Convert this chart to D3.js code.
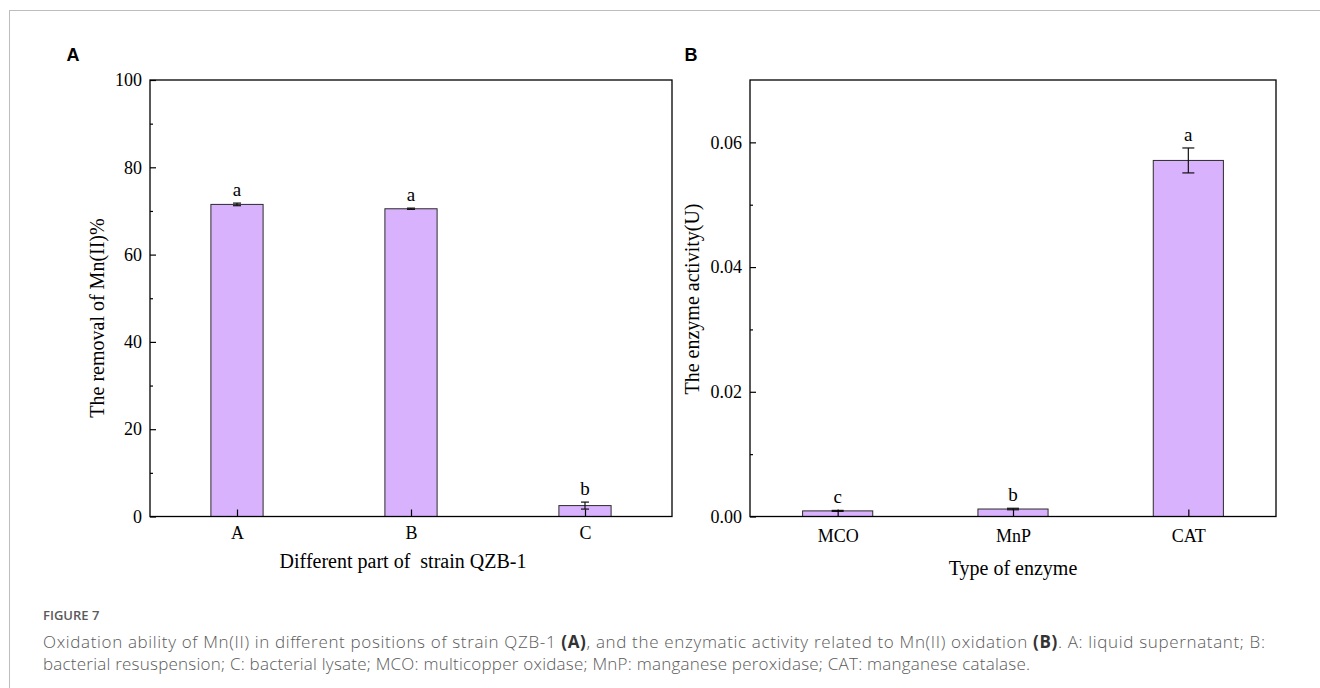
<!DOCTYPE html>
<html>
<head>
<meta charset="utf-8">
<script src="https://cdn.jsdelivr.net/npm/d3@7"></script>
<style>
  body { margin: 0; background: #fff; }
  svg text { font-family: "Liberation Serif", "Times New Roman", serif; }
  .panelLabel { font-family: "Liberation Sans", Arial, sans-serif !important; font-weight: bold; font-size: 18px; }
  .caption { font-family: "Open Sans", "Noto Sans", sans-serif !important; fill: #5a5a5a; }
</style>
</head>
<body>
<svg id="chart" width="1320" height="688"></svg>
<script>
// panel A: removal of Mn(II) by different parts of strain QZB-1
const partCats = ['A', 'B', 'C'];
const removal = [71.5, 70.5, 2.5];
const removalErr = [0.3, 0.15, 0.8];
const removalSig = ['a', 'a', 'b'];
const removalTicks = [0, 20, 40, 60, 80, 100];
const removalMinor = [10, 30, 50, 70, 90];

// panel B: enzyme activity
const enzymeCats = ['MCO', 'MnP', 'CAT'];
const activity = [0.0009, 0.0012, 0.0571];
const activityErr = [0.00008, 0.00012, 0.002];
const activitySig = ['c', 'b', 'a'];
const activityTicks = [0, 0.02, 0.04, 0.06];
const activityMinor = [0.01, 0.03, 0.05];

const captionLines = [
    [['Oxidation ability of Mn(II) in different positions of strain QZB-1 ', false], ['(A)', true],
     [', and the enzymatic activity related to Mn(II) oxidation ', false], ['(B)', true],
     ['. A: liquid supernatant; B:', false]],
    [['bacterial resuspension; C: bacterial lysate; MCO: multicopper oxidase; MnP: manganese peroxidase; CAT: manganese catalase.', false]]
];
const captionWidths = [1222, 987];

let svg = d3.select('#chart');

// page frame
svg.append('rect')
    .attr('x', 9.5).attr('y', 10.5)
    .attr('width', 1340).attr('height', 700)
    .attr('fill', 'none').attr('stroke', '#bdbdbd').attr('stroke-width', 1);

let drawPanel = function(opt){
    let x = d3.scaleLinear().domain([0.5, 3.5]).range([opt.l, opt.r]);
    let y = d3.scaleLinear().domain(opt.domain).range([opt.b, opt.t]);
    let g = svg.append('g');
    let rows = opt.cats.map((c, i) => ({cat: c, pos: i + 1, v: opt.values[i], e: opt.errs[i], s: opt.sig[i]}));

    // bars
    g.selectAll('.bar')
        .data(rows)
        .join('rect')
        .classed('bar', true)
        .attr('x', d => x(d.pos - opt.bw / 2))
        .attr('y', d => y(d.v))
        .attr('width', d => x(d.pos + opt.bw / 2) - x(d.pos - opt.bw / 2))
        .attr('height', d => y(0) - y(d.v))
        .attr('fill', '#d9b2fe')
        .attr('stroke', '#2b2b2b')
        .attr('stroke-width', 1);

    // error bars
    let err = g.selectAll('.err')
        .data(rows)
        .join('g')
        .classed('err', true)
        .attr('stroke', '#111')
        .attr('stroke-width', 1.2);
    err.append('line')
        .attr('x1', d => x(d.pos)).attr('x2', d => x(d.pos))
        .attr('y1', d => y(d.v - d.e)).attr('y2', d => y(d.v + d.e));
    err.append('line')
        .attr('x1', d => x(d.pos) - opt.cap).attr('x2', d => x(d.pos) + opt.cap)
        .attr('y1', d => y(d.v + d.e)).attr('y2', d => y(d.v + d.e));
    err.append('line')
        .attr('x1', d => x(d.pos) - opt.cap).attr('x2', d => x(d.pos) + opt.cap)
        .attr('y1', d => y(d.v - d.e)).attr('y2', d => y(d.v - d.e));

    // significance letters
    g.selectAll('.sig')
        .data(rows)
        .join('text')
        .classed('sig', true)
        .attr('x', d => x(d.pos))
        .attr('y', d => y(d.v + d.e) - 7)
        .attr('text-anchor', 'middle')
        .style('font-size', '19px')
        .text(d => d.s);

    // axes
    let yAxis = d3.axisLeft(y).tickValues(opt.ticks).tickFormat(opt.fmt)
        .tickSize(-6).tickPadding(8);
    let yg = g.append('g').attr('transform', `translate(${opt.l},0)`).call(yAxis);
    yg.selectAll('text').style('font-size', '18px').attr('fill', '#000');

    let yMinor = d3.axisLeft(y).tickValues(opt.minor).tickFormat('').tickSize(-3);
    g.append('g').attr('transform', `translate(${opt.l},0)`).call(yMinor);

    let xAxis = d3.axisBottom(x).tickValues([1, 2, 3]).tickFormat(d => opt.cats[d - 1])
        .tickSize(-7).tickPadding(opt.xpad);
    let xg = g.append('g').attr('transform', `translate(0,${opt.b})`).call(xAxis);
    xg.selectAll('text').style('font-size', '18px').attr('fill', '#000');

    g.selectAll('.domain').remove();
    g.selectAll('.tick line').attr('stroke', '#000').attr('stroke-width', 1.2);

    // frame
    g.append('rect')
        .attr('x', opt.l).attr('y', opt.t)
        .attr('width', opt.r - opt.l).attr('height', opt.b - opt.t)
        .attr('fill', 'none').attr('stroke', '#000').attr('stroke-width', 1.3);

    // titles
    g.append('text')
        .attr('x', (opt.l + opt.r) / 2 + opt.xtDx).attr('y', opt.xtY)
        .attr('text-anchor', 'middle')
        .style('font-size', '20px')
        .style('white-space', 'pre')
        .text(opt.xTitle);
    g.append('text')
        .attr('transform', `translate(${opt.ytX},${opt.ytY}) rotate(-90)`)
        .attr('text-anchor', 'middle')
        .attr('dy', '0.33em')
        .style('font-size', '20px')
        .text(opt.yTitle);
    g.append('text')
        .classed('panelLabel', true)
        .attr('x', opt.labX).attr('y', 61)
        .attr('text-anchor', 'middle')
        .text(opt.label);
}

drawPanel({
    cats: partCats, values: removal, errs: removalErr, sig: removalSig,
    domain: [0, 100], ticks: removalTicks, minor: removalMinor, fmt: d3.format('d'),
    l: 150, r: 672, t: 80, b: 516.5, bw: 0.3, cap: 4, xpad: 10,
    xTitle: 'Different part of  strain QZB-1', xtDx: -8, xtY: 568,
    yTitle: 'The removal of Mn(II)%', ytX: 97, ytY: 318,
    label: 'A', labX: 73
});

drawPanel({
    cats: enzymeCats, values: activity, errs: activityErr, sig: activitySig,
    domain: [0, 0.07], ticks: activityTicks, minor: activityMinor, fmt: d3.format('.2f'),
    l: 750, r: 1276, t: 80, b: 516.5, bw: 0.4, cap: 6, xpad: 13,
    xTitle: 'Type of enzyme', xtDx: 0, xtY: 575,
    yTitle: 'The enzyme activity(U)', ytX: 692, ytY: 299,
    label: 'B', labX: 691
});

// caption
svg.append('text')
    .classed('caption', true)
    .attr('x', 43).attr('y', 620)
    .style('font-size', '13px')
    .style('font-weight', 600)
    .text('FIGURE 7');

captionLines.forEach((line, i) => {
    let t = svg.append('text')
        .classed('caption', true)
        .attr('x', 43).attr('y', 648 + i * 22)
        .attr('textLength', captionWidths[i])
        .attr('lengthAdjust', 'spacing')
        .style('font-size', '17px')
        .style('font-weight', 300);
    t.selectAll('tspan')
        .data(line)
        .join('tspan')
        .style('font-weight', d => d[1] ? 700 : 300)
        .attr('fill', d => d[1] ? '#333' : null)
        .text(d => d[0]);
});
</script>
</body>
</html>
